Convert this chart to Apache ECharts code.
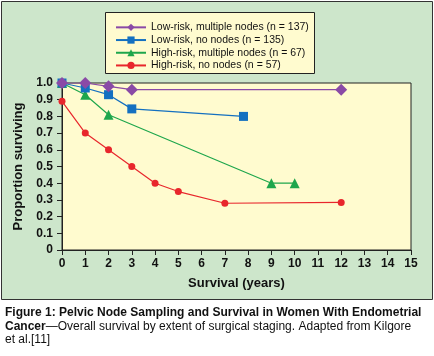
<!DOCTYPE html>
<html><head><meta charset="utf-8">
<script src="https://cdn.jsdelivr.net/npm/echarts@6/dist/echarts.min.js"></script>
<style>html,body{margin:0;padding:0;background:#fff}#c{width:434px;height:356px}</style>
</head><body><div id="c"></div>
<script>
const seriesNames = ['Low-risk, multiple nodes (n = 137)','Low-risk, no nodes (n = 135)','High-risk, multiple nodes (n = 67)','High-risk, no nodes (n = 57)'];
const lowMultiple = [[0,1.0],[1,1.0],[2,0.98],[3,0.96],[12,0.96]];
const lowNone = [[0,1.0],[1,0.97],[2,0.93],[3,0.845],[7.8,0.80]];
const highMultiple = [[0,1.0],[1,0.93],[2,0.81],[9,0.40],[10,0.40]];
const highNone = [[0,0.89],[1,0.70],[2,0.60],[3,0.50],[4,0.40],[5,0.35],[7,0.28],[12,0.285]];
const xTicks = [0,1,2,3,4,5,6,7,8,9,10,11,12,13,14,15];
const yTicks = ['0','0.1','0.2','0.3','0.4','0.5','0.6','0.7','0.8','0.9','1.0'];

const colors = ['#8a4aa6','#1470c0','#1ea64c','#e8262c'];
const symbols = ['diamond','rect','triangle','circle'];
const sizes = [12,9,10,7];
const datas = [lowMultiple, lowNone, highMultiple, highNone];
const font = 'Liberation Sans, Arial, sans-serif';

const chart = echarts.init(document.getElementById('c'), null, {renderer:'canvas'});
chart.setOption({
  animation:false,
  textStyle:{fontFamily:font},
  graphic:[
    {type:'rect', z:-10, shape:{x:1.5,y:1.5,width:431,height:298}, style:{fill:'#cde6cb', stroke:'#333', lineWidth:1}},
    {type:'rect', z:-5, shape:{x:105.5,y:12.5,width:209,height:61}, style:{fill:'#fffbcf', stroke:'#222', lineWidth:1}},
    {type:'text', left:5, top:307, style:{
      text:'{b|Figure 1: Pelvic Node Sampling and Survival in Women With Endometrial}\n{b|Cancer}{n|\u2014Overall survival by extent of surgical staging. Adapted from Kilgore}\n{n|et al.[11]}',
      rich:{b:{fontWeight:'bold',fontSize:12,fontFamily:font,fill:'#111',lineHeight:13.5},n:{fontSize:12,fontFamily:font,fill:'#111',lineHeight:13.5}}
    }}
  ],
  legend:{
    orient:'vertical', left:110, top:16, itemGap:0, itemWidth:30, itemHeight:9,
    data:seriesNames,
    textStyle:{fontSize:10.5, lineHeight:12.7, color:'#111', fontFamily:font}
  },
  grid:{left:62, right:23, top:83, bottom:106, show:true, backgroundColor:'#fffbcf', borderColor:'#222', borderWidth:1},
  xAxis:{
    type:'value', min:0, max:15, interval:1,
    name:'Survival (years)', nameLocation:'middle', nameGap:27,
    nameTextStyle:{fontWeight:'bold', fontSize:13, color:'#111', fontFamily:font},
    axisLine:{show:true, onZero:false, lineStyle:{color:'#222'}},
    axisTick:{show:true, length:5, lineStyle:{color:'#222'}},
    axisLabel:{fontWeight:'bold', fontSize:12, color:'#111', margin:8, formatter:v=>String(xTicks[v])},
    splitLine:{show:false}
  },
  yAxis:{
    type:'value', min:0, max:1, interval:0.1,
    name:'Proportion surviving', nameLocation:'middle', nameGap:36, nameRotate:90,
    nameTextStyle:{fontWeight:'bold', fontSize:13, color:'#111', fontFamily:font},
    axisLine:{show:true, lineStyle:{color:'#222'}},
    axisTick:{show:true, length:5, lineStyle:{color:'#222'}},
    axisLabel:{fontWeight:'bold', fontSize:12, color:'#111', margin:9, formatter:v=>yTicks[Math.round(v*10)]},
    splitLine:{show:false}
  },
  series: datas.map((d,i)=>({
    name:seriesNames[i], type:'line', data:d, symbol:symbols[i], symbolSize:sizes[i],
    showAllSymbol:true, z:10-i,
    lineStyle:{color:colors[i], width:1.2}, itemStyle:{color:colors[i]}
  }))
});
</script></body></html>
